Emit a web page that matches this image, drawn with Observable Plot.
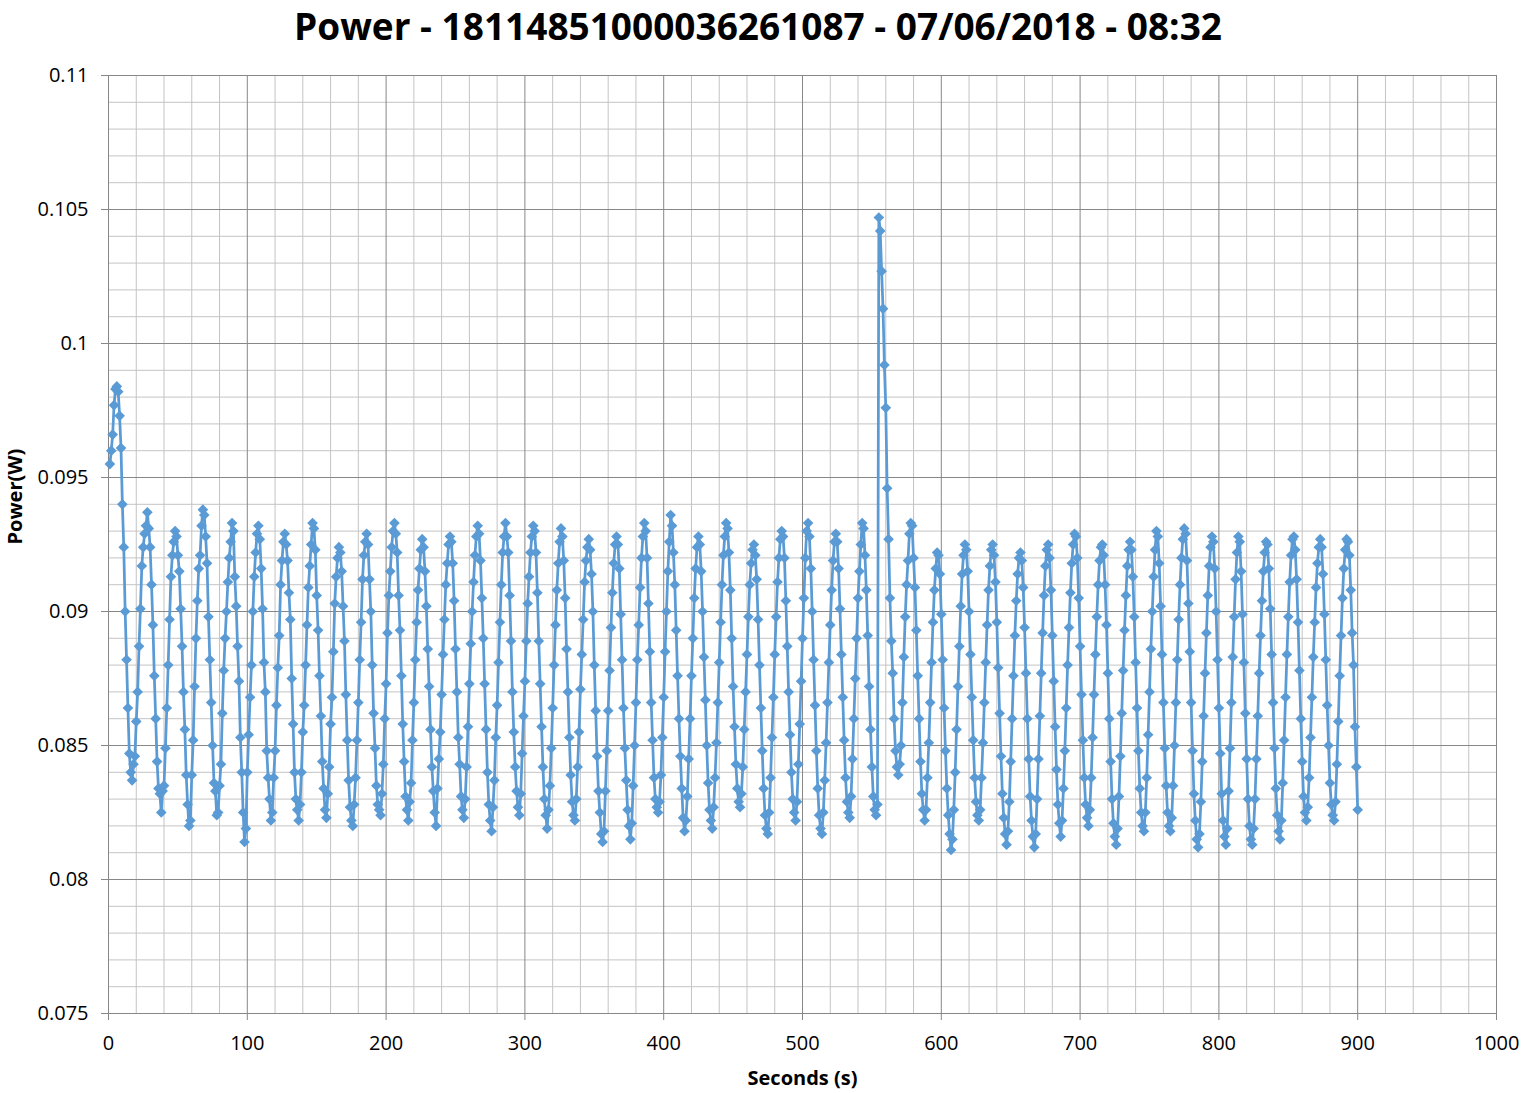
<!DOCTYPE html>
<html>
<head>
<meta charset="utf-8">
<script src="https://cdn.jsdelivr.net/npm/d3@7"></script>
<script src="https://cdn.jsdelivr.net/npm/@observablehq/plot@0.6"></script>
<style>
  html, body { margin: 0; padding: 0; background: #ffffff; }
  #wrap { position: relative; width: 1524px; height: 1093px; background: #ffffff; }
  #title { position: absolute; top: 0px; left: 0; width: 1516px; text-align: center;
           font-family: "Open Sans", sans-serif; font-weight: 700; font-size: 37px; line-height: normal; color: #000; }
  #chart { position: absolute; top: 60px; left: 0; }
</style>
</head>
<body>
<div id="wrap">
  <div id="title">Power - 18114851000036261087 - 07/06/2018 - 08:32</div>
  <div id="chart"></div>
</div>
<script>
// ---- data (one sample per second, starting at second 1) ----
const startSecond = 1;
const power = [
  0.0955,0.0960,0.0966,0.0977,0.0983,0.0984,0.0982,0.0973,0.0961,0.0940,0.0924,0.0900,0.0882,0.0864,0.0847,0.0840,0.0837,
  0.0843,0.0846,0.0859,0.0870,0.0887,0.0901,0.0917,0.0924,0.0929,0.0932,0.0937,0.0931,0.0924,0.0910,0.0895,0.0876,0.0860,0.0844,0.0834,0.0832,0.0825,
  0.0833,0.0835,0.0849,0.0864,0.0880,0.0897,0.0913,0.0921,0.0926,0.0930,0.0928,0.0921,0.0915,0.0901,0.0887,0.0870,0.0856,0.0839,0.0828,0.0820,
  0.0822,0.0839,0.0852,0.0872,0.0890,0.0904,0.0916,0.0921,0.0932,0.0938,0.0936,0.0928,0.0918,0.0898,0.0882,0.0866,0.0850,0.0836,0.0833,0.0824,
  0.0825,0.0835,0.0843,0.0862,0.0878,0.0890,0.0900,0.0911,0.0920,0.0926,0.0933,0.0930,0.0913,0.0902,0.0887,0.0874,0.0853,0.0840,0.0825,0.0814,
  0.0819,0.0840,0.0854,0.0868,0.0880,0.0900,0.0913,0.0922,0.0929,0.0932,0.0927,0.0916,0.0901,0.0881,0.0870,0.0848,0.0838,0.0830,0.0822,
  0.0825,0.0838,0.0848,0.0865,0.0879,0.0891,0.0910,0.0919,0.0926,0.0929,0.0925,0.0919,0.0907,0.0897,0.0875,0.0858,0.0840,0.0830,0.0826,0.0822,
  0.0828,0.0840,0.0855,0.0865,0.0880,0.0895,0.0909,0.0917,0.0925,0.0933,0.0931,0.0923,0.0906,0.0893,0.0876,0.0861,0.0844,0.0834,0.0826,0.0823,
  0.0832,0.0842,0.0858,0.0868,0.0885,0.0903,0.0913,0.0920,0.0924,0.0922,0.0915,0.0902,0.0889,0.0869,0.0852,0.0837,0.0827,0.0822,0.0820,
  0.0828,0.0838,0.0852,0.0866,0.0882,0.0896,0.0912,0.0921,0.0926,0.0929,0.0925,0.0912,0.0900,0.0880,0.0862,0.0849,0.0835,0.0828,0.0826,0.0824,
  0.0832,0.0843,0.0860,0.0873,0.0892,0.0906,0.0915,0.0924,0.0930,0.0933,0.0929,0.0922,0.0906,0.0893,0.0876,0.0858,0.0844,0.0831,0.0826,0.0822,
  0.0829,0.0836,0.0852,0.0866,0.0882,0.0896,0.0908,0.0916,0.0923,0.0927,0.0924,0.0915,0.0902,0.0886,0.0872,0.0856,0.0842,0.0833,0.0825,0.0820,
  0.0834,0.0845,0.0855,0.0869,0.0884,0.0897,0.0910,0.0918,0.0925,0.0928,0.0926,0.0918,0.0904,0.0886,0.0870,0.0853,0.0843,0.0831,0.0826,0.0823,
  0.0830,0.0842,0.0857,0.0873,0.0888,0.0900,0.0911,0.0921,0.0928,0.0932,0.0929,0.0919,0.0905,0.0890,0.0873,0.0856,0.0840,0.0828,0.0822,0.0818,
  0.0827,0.0837,0.0853,0.0865,0.0881,0.0896,0.0910,0.0922,0.0928,0.0933,0.0928,0.0922,0.0906,0.0889,0.0870,0.0855,0.0842,0.0833,0.0827,0.0824,
  0.0832,0.0847,0.0861,0.0874,0.0889,0.0903,0.0913,0.0922,0.0928,0.0932,0.0930,0.0922,0.0907,0.0889,0.0873,0.0857,0.0842,0.0830,0.0824,0.0819,
  0.0826,0.0835,0.0849,0.0864,0.0880,0.0895,0.0908,0.0918,0.0926,0.0931,0.0928,0.0919,0.0905,0.0886,0.0870,0.0853,0.0839,0.0829,0.0824,0.0822,
  0.0830,0.0842,0.0855,0.0871,0.0884,0.0897,0.0911,0.0919,0.0924,0.0927,0.0923,0.0914,0.0900,0.0880,0.0863,0.0846,0.0833,0.0825,0.0817,0.0814,
  0.0818,0.0833,0.0848,0.0863,0.0878,0.0894,0.0907,0.0918,0.0925,0.0928,0.0925,0.0916,0.0899,0.0882,0.0864,0.0849,0.0837,0.0826,0.0820,0.0815,
  0.0821,0.0835,0.0850,0.0866,0.0882,0.0895,0.0909,0.0920,0.0928,0.0933,0.0930,0.0920,0.0903,0.0885,0.0866,0.0852,0.0838,0.0830,0.0827,0.0825,
  0.0829,0.0839,0.0853,0.0868,0.0885,0.0900,0.0915,0.0926,0.0936,0.0932,0.0922,0.0910,0.0893,0.0876,0.0860,0.0846,0.0834,0.0823,0.0818,
  0.0822,0.0831,0.0845,0.0860,0.0876,0.0890,0.0905,0.0916,0.0924,0.0928,0.0925,0.0915,0.0900,0.0883,0.0867,0.0850,0.0836,0.0826,0.0822,0.0819,
  0.0827,0.0838,0.0851,0.0866,0.0881,0.0896,0.0910,0.0921,0.0928,0.0933,0.0931,0.0922,0.0908,0.0890,0.0872,0.0857,0.0843,0.0834,0.0829,0.0827,
  0.0832,0.0842,0.0856,0.0870,0.0884,0.0898,0.0910,0.0918,0.0923,0.0925,0.0921,0.0912,0.0897,0.0880,0.0864,0.0848,0.0834,0.0824,0.0819,0.0817,
  0.0825,0.0838,0.0853,0.0868,0.0884,0.0898,0.0911,0.0920,0.0927,0.0930,0.0928,0.0920,0.0904,0.0887,0.0870,0.0854,0.0840,0.0830,0.0825,0.0822,
  0.0829,0.0843,0.0858,0.0874,0.0890,0.0905,0.0920,0.0930,0.0933,0.0928,0.0916,0.0900,0.0882,0.0865,0.0848,0.0834,0.0824,0.0819,0.0817,
  0.0825,0.0837,0.0851,0.0866,0.0881,0.0895,0.0908,0.0919,0.0926,0.0929,0.0926,0.0916,0.0901,0.0884,0.0868,0.0852,0.0838,0.0829,0.0825,0.0823,
  0.0831,0.0845,0.0860,0.0875,0.0890,0.0905,0.0915,0.0925,0.0933,0.0931,0.0921,0.0908,0.0891,0.0872,0.0856,0.0842,0.0831,0.0826,0.0824,0.0828,
  0.1047,0.1042,0.1027,0.1013,0.0992,0.0976,0.0946,0.0927,0.0905,0.0889,0.0877,0.0860,0.0848,0.0842,0.0839,
  0.0843,0.0850,0.0866,0.0883,0.0898,0.0910,0.0919,0.0929,0.0933,0.0932,0.0920,0.0909,0.0893,0.0876,0.0860,0.0844,0.0832,0.0826,0.0822,
  0.0826,0.0838,0.0851,0.0866,0.0881,0.0896,0.0908,0.0916,0.0922,0.0921,0.0914,0.0899,0.0882,0.0864,0.0848,0.0834,0.0824,0.0817,0.0811,
  0.0815,0.0826,0.0840,0.0856,0.0872,0.0887,0.0902,0.0914,0.0921,0.0925,0.0923,0.0915,0.0900,0.0884,0.0868,0.0852,0.0838,0.0829,0.0824,0.0822,
  0.0826,0.0838,0.0851,0.0866,0.0881,0.0895,0.0908,0.0917,0.0923,0.0925,0.0921,0.0911,0.0896,0.0879,0.0862,0.0846,0.0832,0.0823,0.0817,0.0813,
  0.0818,0.0829,0.0844,0.0860,0.0876,0.0891,0.0904,0.0914,0.0920,0.0922,0.0919,0.0909,0.0894,0.0877,0.0860,0.0845,0.0831,0.0822,0.0816,0.0812,
  0.0817,0.0830,0.0845,0.0861,0.0877,0.0892,0.0906,0.0917,0.0923,0.0925,0.0920,0.0908,0.0891,0.0874,0.0857,0.0841,0.0828,0.0821,0.0816,
  0.0822,0.0834,0.0848,0.0864,0.0880,0.0894,0.0907,0.0918,0.0925,0.0929,0.0928,0.0920,0.0905,0.0887,0.0869,0.0852,0.0838,0.0828,0.0823,0.0820,
  0.0826,0.0838,0.0853,0.0869,0.0884,0.0898,0.0910,0.0919,0.0924,0.0925,0.0921,0.0910,0.0895,0.0877,0.0860,0.0844,0.0830,0.0821,0.0816,0.0813,
  0.0819,0.0831,0.0846,0.0862,0.0878,0.0893,0.0906,0.0917,0.0923,0.0926,0.0923,0.0913,0.0898,0.0881,0.0864,0.0848,0.0834,0.0825,0.0820,0.0818,
  0.0825,0.0838,0.0854,0.0870,0.0886,0.0900,0.0913,0.0923,0.0930,0.0928,0.0918,0.0902,0.0884,0.0866,0.0849,0.0835,0.0825,0.0820,0.0818,
  0.0823,0.0835,0.0850,0.0866,0.0882,0.0897,0.0910,0.0920,0.0927,0.0931,0.0929,0.0919,0.0903,0.0885,0.0866,0.0848,0.0832,0.0822,0.0815,0.0812,
  0.0817,0.0829,0.0844,0.0861,0.0877,0.0892,0.0906,0.0917,0.0924,0.0928,0.0926,0.0916,0.0900,0.0882,0.0864,0.0847,0.0832,0.0822,0.0816,0.0813,
  0.0819,0.0833,0.0849,0.0866,0.0883,0.0898,0.0912,0.0922,0.0928,0.0926,0.0915,0.0899,0.0881,0.0862,0.0845,0.0830,0.0820,0.0815,0.0813,
  0.0819,0.0830,0.0845,0.0861,0.0877,0.0891,0.0904,0.0915,0.0922,0.0926,0.0925,0.0916,0.0901,0.0884,0.0866,0.0849,0.0834,0.0824,0.0818,0.0815,
  0.0822,0.0836,0.0852,0.0868,0.0884,0.0898,0.0911,0.0921,0.0927,0.0928,0.0923,0.0912,0.0896,0.0878,0.0860,0.0844,0.0831,0.0825,0.0822,
  0.0827,0.0838,0.0853,0.0868,0.0883,0.0896,0.0909,0.0918,0.0924,0.0927,0.0924,0.0914,0.0899,0.0882,0.0865,0.0850,0.0836,0.0828,0.0824,0.0822,
  0.0829,0.0843,0.0859,0.0876,0.0891,0.0905,0.0916,0.0923,0.0927,0.0926,0.0921,0.0908,0.0892,0.0880,0.0857,0.0842,0.0826
];

// ---- axes ----
const xTicks = [0, 100, 200, 300, 400, 500, 600, 700, 800, 900, 1000];
const yTicks = [0.075, 0.08, 0.085, 0.09, 0.095, 0.1, 0.105, 0.11];
const xDomain = [0, 1000];
const yDomain = [0.075, 0.11];
const xLabel = "Seconds (s)";
const yLabel = "Power(W)";

const data = power.map((p, i) => ({second: startSecond + i, power: p}));
const minorX = d3.range(0, 1001, 20).filter(v => v % 100 !== 0);
const minorY = d3.range(75, 111).filter(v => v % 5 !== 0).map(v => v / 1000);

const lineColor = "#5B9BD5";

const chart = Plot.plot({
  width: 1524,
  height: 1033,
  marginLeft: 108,
  marginRight: 28,
  marginTop: 15,
  marginBottom: 80,
  x: {domain: xDomain},
  y: {domain: yDomain},
  style: {fontFamily: "'Open Sans', sans-serif", fontSize: "20px", color: "#000", background: "#fff", overflow: "visible"},
  marks: [
    Plot.ruleX(minorX, {stroke: "#c4c4c4", strokeWidth: 1}),
    Plot.ruleY(minorY, {stroke: "#c4c4c4", strokeWidth: 1}),
    Plot.ruleX(xTicks, {stroke: "#878787", strokeWidth: 1}),
    Plot.ruleY(yTicks, {stroke: "#878787", strokeWidth: 1}),
    Plot.axisX({ticks: xTicks, tickSize: 7, tickPadding: 15, label: null, stroke: "#878787", fill: "#000", tickFormat: d => String(d)}),
    Plot.axisY({ticks: yTicks, tickSize: 7, tickPadding: 13, label: null, stroke: "#878787", fill: "#000", tickFormat: d => String(d)}),
    Plot.line(data, {x: "second", y: "power", stroke: lineColor, strokeWidth: 2.75}),
    Plot.dot(data, {x: "second", y: "power", symbol: "diamond2", r: 4.8, fill: lineColor, stroke: "none"}),
    Plot.text([xLabel], {frameAnchor: "bottom", dy: 71, text: d => d, fontWeight: "bold", fontSize: 20, fill: "#000"}),
    Plot.text([yLabel], {frameAnchor: "left", dx: -93, rotate: -90, text: d => d, fontWeight: "bold", fontSize: 20, fill: "#000"})
  ]
});
document.getElementById("chart").appendChild(chart);
</script>
</body>
</html>
